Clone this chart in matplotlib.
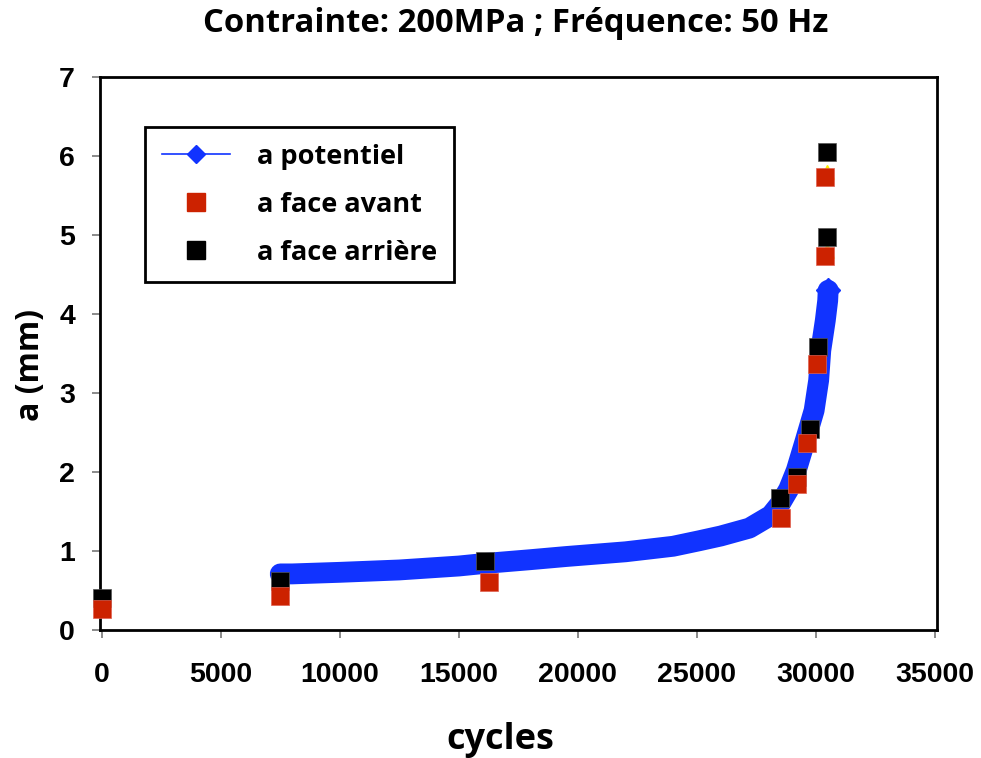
import numpy as np
import matplotlib
matplotlib.use('Agg')
import matplotlib.pyplot as plt
from matplotlib.lines import Line2D

#-------------------------------------------------------------------------------
# Data
#-------------------------------------------------------------------------------
# a potentiel : potential-drop crack length, dense band of points
pot_cycles = [7500, 8000, 10000, 12500, 15000, 16000, 18000, 19500, 22000,
              24000, 25100, 26000, 27200, 28100, 28500, 28850, 29170,
              29550, 29920, 30110, 30200, 30390, 30490, 30510]
pot_a      = [0.71, 0.71, 0.73, 0.76, 0.81, 0.84, 0.89, 0.93, 0.99,
              1.06, 1.13, 1.19, 1.29, 1.45, 1.60, 1.78, 2.02,
              2.40, 2.78, 3.16, 3.54, 3.92, 4.17, 4.30]

# a face avant (front face)
avant_cycles = [0, 7500, 16260, 28540, 29210, 29630, 30050, 30385, 30385]
avant_a      = [0.27, 0.43, 0.61, 1.42, 1.85, 2.37, 3.37, 4.74, 5.73]

# a face arriere (back face)
arr_cycles = [0, 7500, 16090, 28500, 29210, 29760, 30090, 30470, 30470]
arr_a      = [0.41, 0.62, 0.87, 1.67, 1.94, 2.55, 3.58, 4.98, 6.05]

# hidden series, only small bits visible behind the squares
hid_cycles = [30480, 30480]
hid_a      = [4.80, 5.80]

xticks = [0, 5000, 10000, 15000, 20000, 25000, 30000, 35000]
yticks = [0, 1, 2, 3, 4, 5, 6, 7]

#-------------------------------------------------------------------------------
# Settings
#-------------------------------------------------------------------------------
c_blue  = '#1133FF'
c_red   = '#CC2200'
c_black = '#000000'
ms      = 13.5
hfont   = 'Open Sans'      # humanist bold for title / labels / legend
tfont   = 'Liberation Sans'

fig = plt.figure(figsize=(9.81, 7.58), dpi=100)
ax  = fig.add_axes([100/981, 1-630/758, (937-100)/981, (630-77)/758])

# ---- blue band ----
ax.plot(pot_cycles, pot_a, color=c_blue, lw=15, solid_capstyle='round',
        solid_joinstyle='round', zorder=2)
ax.plot(pot_cycles[-1], pot_a[-1], marker='D', color=c_blue, ms=12, zorder=2)

# ---- hidden yellow bits ----
ax.plot(hid_cycles, hid_a, ls='none', marker='^', color='#FFEE00', ms=10, zorder=1)

# ---- squares ----
ax.plot(arr_cycles, arr_a, ls='none', marker='s', ms=ms, color=c_black,
        markeredgecolor='#555555', markeredgewidth=0.5, zorder=3, clip_on=False)
ax.plot(avant_cycles, avant_a, ls='none', marker='s', ms=ms, color=c_red,
        markeredgecolor='#E06050', markeredgewidth=0.5, zorder=4, clip_on=False)

# ---- axes ----
ax.set_xlim(-70, 35080)
ax.set_ylim(0, 7)
ax.set_xticks(xticks)
ax.set_yticks(yticks)
ax.set_xticklabels([str(v) for v in xticks], fontfamily=tfont,
                   fontweight='bold', fontsize=20.5)
ax.set_yticklabels([str(v) for v in yticks], fontfamily=tfont,
                   fontweight='bold', fontsize=20.5)
ax.tick_params(axis='x', direction='out', length=6, width=1.2, color='#777777', pad=17)
ax.tick_params(axis='y', direction='out', length=6, width=1.2, color='#777777', pad=12)
for sp in ax.spines.values():
    sp.set_linewidth(2.0)
    sp.set_color('black')

# ---- labels ----
fig.text(516/981, 1-23/758, 'Contrainte: 200MPa ; Fréquence: 50 Hz',
         ha='center', va='center', fontfamily=hfont, fontweight='bold', fontsize=23.7)
fig.text(500/981, 1-740/758, 'cycles', ha='center', va='center',
         fontfamily=hfont, fontweight='bold', fontsize=26)
fig.text(30/981, 1-365/758, 'a (mm)', ha='center', va='center', rotation=90,
         fontfamily=hfont, fontweight='bold', fontsize=23)

# ---- legend ----
handles = [
    Line2D([], [], color=c_blue, lw=1.2, marker='D', ms=9),
    Line2D([], [], color=c_red, ls='none', marker='s', ms=13),
    Line2D([], [], color=c_black, ls='none', marker='s', ms=13),
]
labels = ['a potentiel', 'a face avant', 'a face arrière']
leg = ax.legend(handles, labels, loc='upper left',
                bbox_to_anchor=((145-100)/837, 1-(127-77)/553),
                prop={'family': hfont, 'weight': 'bold', 'size': 19.5},
                handlelength=2.5, handletextpad=1.0, labelspacing=0.81,
                borderpad=0.62, borderaxespad=0, fancybox=False,
                framealpha=1, edgecolor='black')
leg.get_frame().set_linewidth(2.0)

fig.savefig('out.png', dpi=100)
plt.close(fig)
